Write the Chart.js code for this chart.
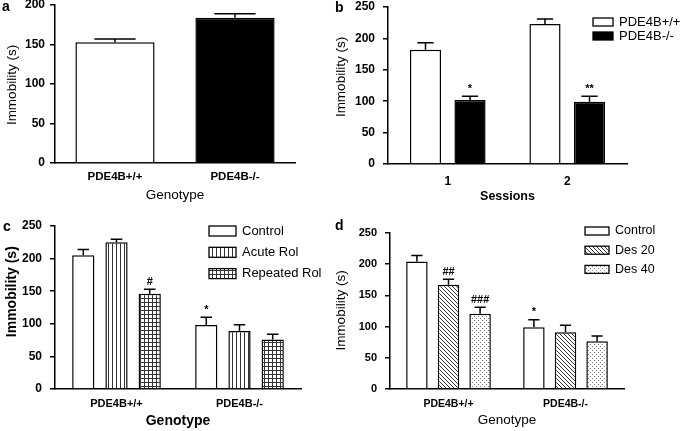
<!DOCTYPE html>
<html>
<head>
<meta charset="utf-8">
<script src="https://cdn.jsdelivr.net/npm/chart.js@4.4.1/dist/chart.umd.min.js"></script>
<style>
  body { margin: 0; background: #fff; width: 685px; height: 431px; position: relative; overflow: hidden; font-family: "Liberation Sans", Arial, sans-serif; }
  canvas { position: absolute; }
  .panel-letter { position: absolute; font-weight: bold; font-size: 14px; line-height: 14px; color: #000; }
</style>
</head>
<body>
<canvas id="chartA" width="335" height="210" style="left:0;top:0"></canvas>
<canvas id="chartB" width="357" height="210" style="left:328px;top:0"></canvas>
<canvas id="chartC" width="335" height="221" style="left:0;top:210px"></canvas>
<canvas id="chartD" width="357" height="221" style="left:328px;top:210px"></canvas>
<div class="panel-letter" style="left:2px;top:-1px">a</div>
<div class="panel-letter" style="left:335px;top:0">b</div>
<div class="panel-letter" style="left:3px;top:219px">c</div>
<div class="panel-letter" style="left:335px;top:218px">d</div>
<script>
const FONT = '"Liberation Sans", Arial, sans-serif';
Chart.defaults.font.family = FONT;
Chart.defaults.color = '#000';

// datos
const genotypes = ['PDE4B+/+', 'PDE4B-/-'];
const sessions = ['1', '2'];
const yTicksA = [0, 50, 100, 150, 200];
const yTicks250 = [0, 50, 100, 150, 200, 250];

// a
const immobilityA = [153, 184];
const semA = [4, 5];

// b
const wtB = [182, 223];
const wtSemB = [11, 8];
const koB = [102, 99];
const koSemB = [6, 9];
const koSigB = ['*', '**'];

// c
const controlC = [205, 98];
const controlSemC = [9, 12];
const controlSigC = ['', '*'];
const acuteC = [225, 89];
const acuteSemC = [4.5, 9.5];
const repeatedC = [146, 76];
const repeatedSemC = [7, 8];
const repeatedSigC = ['#', ''];

// d
const controlD = [204.5, 99];
const controlSemD = [9.5, 12];
const controlSigD = ['', '*'];
const des20D = [167, 91];
const des20SemD = [9, 11];
const des20SigD = ['##', ''];
const des40D = [120.5, 76.5];
const des40SemD = [10.5, 8.5];
const des40SigD = ['###', ''];

// tramas para las barras
function makePattern(kind) {
  const c = document.createElement('canvas');
  c.width = 4; c.height = 4;
  const p = c.getContext('2d');
  p.fillStyle = '#fff';
  p.fillRect(0, 0, 4, 4);
  p.fillStyle = '#333';
  if (kind === 'vertical') p.fillRect(0, 0, 1, 4);
  if (kind === 'grid') { p.fillRect(0, 0, 1, 4); p.fillRect(0, 0, 4, 1); }
  if (kind === 'diagonal') { for (let k = 0; k < 4; k++) p.fillRect(k, k, 1, 1); }
  if (kind === 'dots') { p.fillStyle = '#777'; p.fillRect(0, 0, 1, 1); p.fillRect(2, 2, 1, 1); }
  return p.createPattern(c, 'repeat');
}

const errorBars = {
  id: 'errorBars',
  afterDatasetsDraw(chart) {
    const ctx = chart.ctx;
    const y = chart.scales.y;
    chart.data.datasets.forEach((ds, i) => {
      chart.getDatasetMeta(i).data.forEach((bar, j) => {
        const top = y.getPixelForValue(ds.data[j] + ds.errors[j]);
        const half = bar.width * 0.26;
        ctx.save();
        ctx.strokeStyle = '#000';
        ctx.lineWidth = 1.5;
        ctx.beginPath();
        ctx.moveTo(bar.x, bar.y);
        ctx.lineTo(bar.x, top);
        ctx.moveTo(bar.x - half, top);
        ctx.lineTo(bar.x + half, top);
        ctx.stroke();
        const mark = ds.sig && ds.sig[j];
        if (mark) {
          ctx.fillStyle = '#000';
          ctx.font = 'bold 11px ' + FONT;
          ctx.textAlign = 'center';
          ctx.textBaseline = 'alphabetic';
          ctx.fillText(mark, bar.x, top - 4.5);
        }
        ctx.restore();
      });
    });
  }
};

const boxLegend = {
  id: 'boxLegend',
  afterDraw(chart, args, opts) {
    if (!opts.show) return;
    const ctx = chart.ctx;
    ctx.save();
    chart.data.datasets.forEach((ds, i) => {
      const cy = opts.y + i * opts.rowH;
      ctx.fillStyle = ds.backgroundColor;
      ctx.fillRect(opts.x, cy - opts.boxH / 2, opts.boxW, opts.boxH);
      ctx.strokeStyle = '#000';
      ctx.lineWidth = 1.3;
      ctx.strokeRect(opts.x, cy - opts.boxH / 2, opts.boxW, opts.boxH);
      ctx.fillStyle = '#000';
      ctx.font = opts.font;
      ctx.textAlign = 'left';
      ctx.textBaseline = 'middle';
      ctx.fillText(ds.label, opts.x + opts.boxW + 6, cy);
    });
    ctx.restore();
  }
};

const yTitle = {
  id: 'yTitle',
  afterDraw(chart, args, opts) {
    const ctx = chart.ctx;
    ctx.save();
    ctx.translate(opts.x, opts.y);
    ctx.rotate(-Math.PI / 2);
    ctx.fillStyle = '#000';
    ctx.font = opts.font;
    ctx.textAlign = 'center';
    ctx.textBaseline = 'middle';
    ctx.fillText(opts.text, 0, 0);
    ctx.restore();
  }
};

function makeChart(id, cfg) {
  const axisBorder = { display: true, color: '#000', width: 1.5 };
  return new Chart(document.getElementById(id), {
    type: 'bar',
    data: {
      labels: cfg.labels,
      datasets: cfg.datasets.map(d => ({
        label: d.label,
        data: d.data,
        errors: d.errors,
        sig: d.sig || [],
        backgroundColor: d.fill,
        borderColor: '#000',
        borderWidth: 1.5,
        borderSkipped: 'start',
        barPercentage: cfg.barPct,
        categoryPercentage: cfg.catPct
      }))
    },
    options: {
      responsive: false,
      animation: false,
      events: [],
      layout: { padding: { top: cfg.top, right: cfg.right, left: 0, bottom: 0 } },
      plugins: {
        legend: { display: false },
        tooltip: { enabled: false },
        boxLegend: cfg.legend || { show: false },
        yTitle: cfg.yTitle
      },
      scales: {
        x: {
          grid: { display: false, drawTicks: false },
          border: axisBorder,
          ticks: { color: '#000', font: cfg.xFont, padding: cfg.xPad },
          title: { display: true, text: cfg.xTitle, color: '#000', font: cfg.xTitleFont, padding: { top: 0, bottom: cfg.xTitlePad } },
          afterFit: s => { s.height = cfg.xH; s.paddingLeft = 0; s.paddingRight = 0; }
        },
        y: {
          min: 0,
          max: cfg.yTicks[cfg.yTicks.length - 1],
          afterBuildTicks: s => { s.ticks = cfg.yTicks.map(v => ({ value: v })); },
          grid: { display: true, drawOnChartArea: false, drawTicks: true, tickLength: 5, color: '#000', lineWidth: 1.5 },
          border: axisBorder,
          ticks: { color: '#000', font: cfg.yFont, padding: cfg.yPad },
          afterFit: s => { s.width = cfg.yW; s.paddingTop = 0; s.paddingBottom = 0; }
        }
      }
    },
    plugins: [errorBars, boxLegend, yTitle]
  });
}

const white = '#fff';
const black = '#000';

makeChart('chartA', {
  labels: genotypes,
  datasets: [{ label: 'Immobility', data: immobilityA, errors: semA, fill: [white, black] }],
  barPct: 0.66, catPct: 1,
  top: 5, right: 40, xH: 47, yW: 55,
  yTicks: yTicksA,
  xFont: { size: 11.5, weight: 'bold' }, xPad: 7,
  yFont: { size: 12, weight: 'bold' }, yPad: 5,
  xTitle: 'Genotype', xTitleFont: { size: 13.5 }, xTitlePad: 7,
  yTitle: { text: 'Immobility (s)', x: 12, y: 85, font: '13.5px ' + FONT }
});

makeChart('chartB', {
  labels: sessions,
  datasets: [
    { label: 'PDE4B+/+', data: wtB, errors: wtSemB, fill: white },
    { label: 'PDE4B-/-', data: koB, errors: koSemB, sig: koSigB, fill: black }
  ],
  barPct: 0.70, catPct: 0.745,
  top: 7, right: 58, xH: 46, yW: 60,
  yTicks: yTicks250,
  xFont: { size: 12, weight: 'bold' }, xPad: 10.8,
  yFont: { size: 12, weight: 'bold' }, yPad: 8,
  xTitle: 'Sessions', xTitleFont: { size: 12.5, weight: 'bold' }, xTitlePad: 5.5,
  yTitle: { text: 'Immobility (s)', x: 13.7, y: 77, font: '13.5px ' + FONT },
  legend: { show: true, x: 265, y: 22, boxW: 20, boxH: 8, rowH: 14, font: '13px ' + FONT }
});

makeChart('chartC', {
  labels: genotypes,
  datasets: [
    { label: 'Control', data: controlC, errors: controlSemC, sig: controlSigC, fill: white },
    { label: 'Acute Rol', data: acuteC, errors: acuteSemC, fill: makePattern('vertical') },
    { label: 'Repeated Rol', data: repeatedC, errors: repeatedSemC, sig: repeatedSigC, fill: makePattern('grid') }
  ],
  barPct: 0.67, catPct: 0.81,
  top: 16, right: 34, xH: 42, yW: 55,
  yTicks: yTicks250,
  xFont: { size: 11, weight: 'bold' }, xPad: 8.4,
  yFont: { size: 12, weight: 'bold' }, yPad: 8,
  xTitle: 'Genotype', xTitleFont: { size: 14, weight: 'bold' }, xTitlePad: 1,
  yTitle: { text: 'Immobility (s)', x: 12, y: 81.7, font: 'bold 14px ' + FONT },
  legend: { show: true, x: 209, y: 21, boxW: 27, boxH: 10, rowH: 21.3, font: '13px ' + FONT }
});

makeChart('chartD', {
  labels: genotypes,
  datasets: [
    { label: 'Control', data: controlD, errors: controlSemD, sig: controlSigD, fill: white },
    { label: 'Des 20', data: des20D, errors: des20SemD, sig: des20SigD, fill: makePattern('diagonal') },
    { label: 'Des 40', data: des40D, errors: des40SemD, sig: des40SigD, fill: makePattern('dots') }
  ],
  barPct: 0.68, catPct: 0.81,
  top: 23, right: 61, xH: 42, yW: 62,
  yTicks: yTicks250,
  xFont: { size: 10.5, weight: 'bold' }, xPad: 8.7,
  yFont: { size: 11, weight: 'bold' }, yPad: 8,
  xTitle: 'Genotype', xTitleFont: { size: 13.5 }, xTitlePad: 2.2,
  yTitle: { text: 'Immobility (s)', x: 13.7, y: 100.5, font: '13.5px ' + FONT },
  legend: { show: true, x: 257, y: 21, boxW: 24, boxH: 8, rowH: 19.2, font: '12.5px ' + FONT }
});
</script>
</body>
</html>
